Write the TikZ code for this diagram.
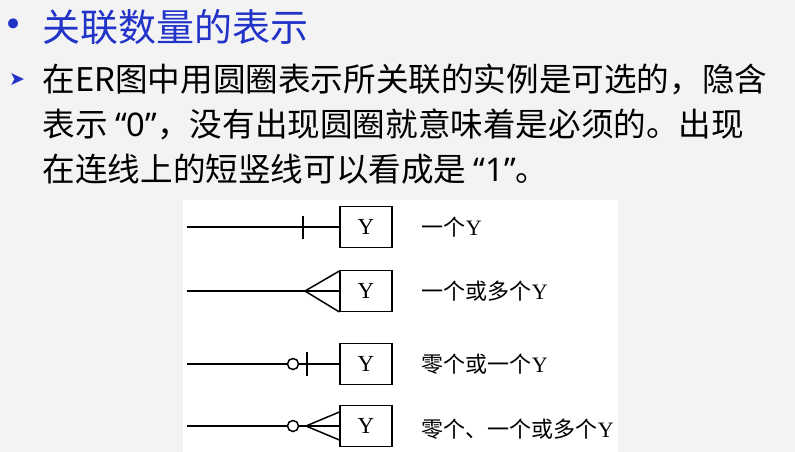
\documentclass[tikz,border=0pt]{standalone}
\usepackage{fontspec}
\setmainfont{Liberation Serif}
\newfontfamily\cjk{Noto Sans CJK SC}
\newfontfamily\sym{DejaVu Sans}
\newfontfamily\lat{Noto Sans}
\definecolor{slidebg}{HTML}{F3F3F4}
\definecolor{titleblue}{HTML}{2233C8}
\begin{document}
\begin{tikzpicture}[x=1pt, y=-1pt, line width=1.5pt,
  every node/.style={inner sep=0pt},
  ent/.style={draw, line width=1.2pt, minimum width=52pt, minimum height=41pt, font=\fontsize{23}{23}\selectfont},
  lab/.style={anchor=west, font=\cjk\fontsize{22}{22}\selectfont},
  body/.style={anchor=west, font=\cjk\fontsize{32.6}{33}\selectfont}]
\useasboundingbox (0,0) rectangle (795,452);
\fill[slidebg] (0,0) rectangle (795,452);
\fill[white] (183,200) rectangle (618,452);

\node (B0) at (14,28) [text=titleblue, font=\sym\fontsize{34}{34}\selectfont] {•};
\node (H) at (42,27) [anchor=west, text=titleblue, font=\cjk\fontsize{38}{38}\selectfont] {关联数量的表示};
\node (B1) at (17,80) [text=titleblue, font=\sym\fontsize{19}{19}\selectfont] {➤};
\node (L1) at (42,79) [body] {在ER图中用圆圈表示所关联的实例是可选的，隐含};
\node (L2) at (42,124) [body] {表示 {\lat“0”}，没有出现圆圈就意味着是必须的。出现};
\node (L3) at (42,169) [body] {在连线上的短竖线可以看成是 {\lat“1”}。};

\node (Y1) at (366,227) [ent] {Y};
\node (Y2) at (366,291) [ent] {Y};
\node (Y3) at (366,364) [ent] {Y};
\node (Y4) at (366,426) [ent] {Y};

\node (T1) at (421,227) [lab] {一个{\rmfamily Y}};
\node (T2) at (421,291) [lab] {一个或多个{\rmfamily Y}};
\node (T3) at (421,364) [lab] {零个或一个{\rmfamily Y}};
\node (T4) at (421,429) [lab] {零个、一个或多个{\rmfamily Y}};

\coordinate (A1) at (187,227);
\coordinate (A2) at (187,291);
\coordinate (A3) at (187,364);
\coordinate (A4) at (187,426);
\coordinate (V2) at (305,291);
\coordinate (V4) at (306,426);
\node (C3) at (293,364) [circle, draw, minimum size=11pt] {};
\node (C4) at (293,426) [circle, draw, minimum size=11pt] {};

% one
\draw (A1) to (Y1.west);
\draw (303,216) to (303,239);
% one or many
\draw (A2) to (Y2.west);
\draw ([yshift=-21pt]Y2.west) to (V2) to ([yshift=20pt]Y2.west);
% zero or one
\draw (A3) to (C3);
\draw (C3) to (Y3.west);
\draw (307,352) to (307,376);
% zero, one or many
\draw (A4) to (C4);
\draw (C4) to (Y4.west);
\draw ([yshift=-14pt]Y4.west) to (V4) to ([yshift=14pt]Y4.west);
\end{tikzpicture}
\end{document}
